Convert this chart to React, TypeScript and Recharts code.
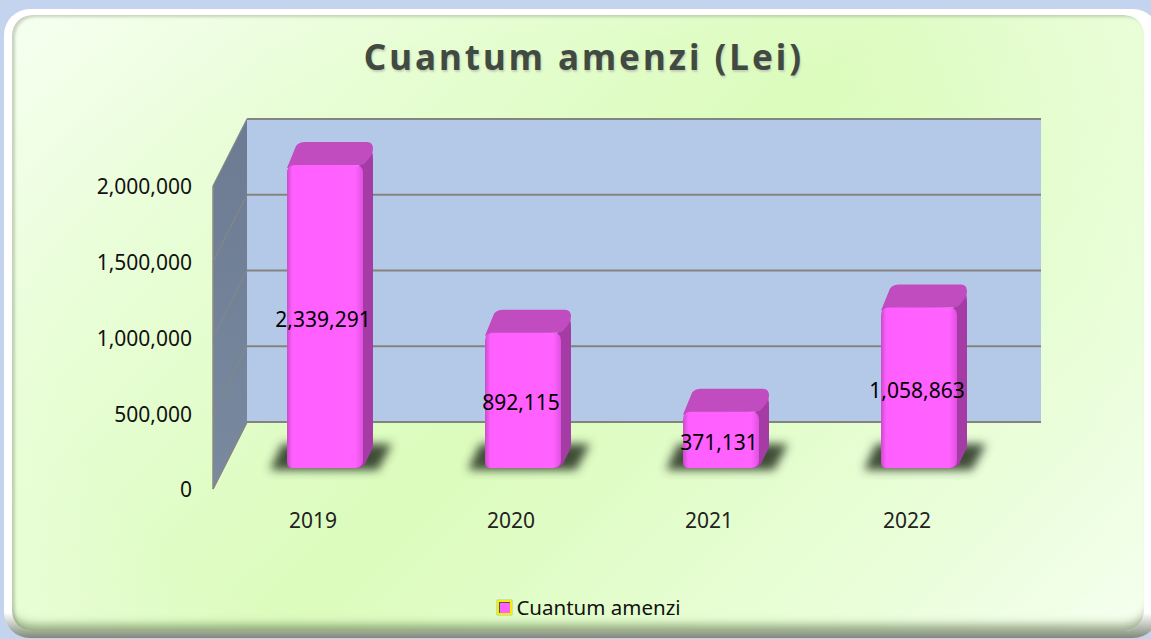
import React from 'react';
import { BarChart, Bar, XAxis, YAxis, CartesianGrid, LabelList, Legend, usePlotArea } from 'recharts';

const years = ['2019', '2020', '2021', '2022'];
const amounts = [2339291, 892115, 371131, 1058863];
const yTicks = [0, 500000, 1000000, 1500000, 2000000];

const data = years.map((year, i) => ({ year, amount: amounts[i] }));

const FONT = '"Noto Sans", sans-serif';
const WALL_DX = 34;
const WALL_DY = 67;
const BAR_DX = 13;
const BAR_DY = 21;
const TOP_DX = 10;
const TOP_DY = 23;

const fmt = (v: number) => v.toLocaleString('en-US');

// walls go in with the first grid line so the lines stay on top of them
const Walls = () => {
  const plot = usePlotArea();
  if (!plot) return null;
  const { x, y, width, height } = plot;
  const bx = x + WALL_DX;
  const right = x + width + WALL_DX + 2;
  return (
    <g>
      <defs>
        <linearGradient id="sideWall" x1="0" y1="0" x2="0" y2="1">
          <stop offset="0" stopColor="#6c7b91" />
          <stop offset="1" stopColor="#79899f" />
        </linearGradient>
        <filter id="floorBlur" x="-30%" y="-60%" width="160%" height="220%">
          <feGaussianBlur stdDeviation="5" />
        </filter>
        <linearGradient id="barFront" x1="0" y1="0" x2="1" y2="0">
          <stop offset="0" stopColor="#c94cc9" />
          <stop offset="0.07" stopColor="#ff5fff" />
          <stop offset="0.9" stopColor="#ff62ff" />
          <stop offset="1" stopColor="#e050e0" />
        </linearGradient>
      </defs>
      <rect x={bx} y={y - WALL_DY} width={right - bx} height={height} fill="#b4c9e8" />
      <path
        d={`M${x},${y} L${bx},${y - WALL_DY} L${bx},${y + height - WALL_DY} L${x},${y + height} Z`}
        fill="url(#sideWall)"
      />
      <path
        d={`M${x},${y} L${x},${y + height} L${bx},${y + height - WALL_DY}`}
        fill="none"
        stroke="#8a8a80"
        strokeWidth={1.5}
      />
    </g>
  );
};

const GridLine = (props: any) => {
  const { x1, x2, y1, index } = props;
  const bx = x1 + WALL_DX;
  const by = y1 - WALL_DY;
  return (
    <g>
      {index === 0 && <Walls />}
      <line x1={x1} y1={y1} x2={bx} y2={by} stroke="#84868a" strokeWidth={1.2} />
      <line x1={bx} y1={by} x2={x2 + WALL_DX + 2} y2={by} stroke="#84847e" strokeWidth={2} />
    </g>
  );
};

const Bar3D = (props: any) => {
  const { x, y, width, height, background } = props;
  const plotTop = background ? background.y : y;
  const bottom = y + height - BAR_DY;
  const top = Math.max(y, plotTop) - BAR_DY;
  const l = x + BAR_DX;
  const r = l + width;
  const d = TOP_DX;
  const u = TOP_DY;
  return (
    <g>
      <path
        d={`M${l - 17},${bottom + 2} L${l - 5},${bottom - 24} L${r + 29},${bottom - 24} L${r + 15},${bottom + 2} Z`}
        fill="#37432f"
        fillOpacity={0.95}
        filter="url(#floorBlur)"
      />
      <path
        d={`M${r - 6},${top + 3} L${r + d - 1},${top - u + 9} Q${r + d},${top - u + 12} ${r + d},${top - u + 18}
           L${r + d},${bottom - u + 2} L${r + 2},${bottom - 4} Q${r - 1},${bottom} ${r - 8},${bottom} Z`}
        fill="#a53ca6"
      />
      <path
        d={`M${l},${top + 3} L${l + d - 1},${top - u + 4} Q${l + d + 2},${top - u} ${l + d + 8},${top - u}
           L${r + d - 6},${top - u} Q${r + d},${top - u} ${r + d},${top - u + 7} Q${r + d},${top - u + 13} ${r + 2},${top - 2} Q${r},${top} ${r - 6},${top} Z`}
        fill="#c04cc0"
      />
      <path
        d={`M${l},${top + 8} Q${l},${top} ${l + 8},${top} L${r - 8},${top} Q${r},${top} ${r},${top + 8}
           L${r},${bottom - 8} Q${r},${bottom} ${r - 8},${bottom} L${l + 6},${bottom} Q${l},${bottom} ${l},${bottom - 6} Z`}
        fill="url(#barFront)"
      />
    </g>
  );
};

const BarValue = (props: any) => {
  const plot = usePlotArea();
  const { x, y, width, height, value } = props;
  if (!plot) return null;
  const top = Math.max(y, plot.y);
  const cy = (top + y + height) / 2 - BAR_DY + 2;
  return (
    <text x={x + width / 2 + 11} y={cy} textAnchor="middle" dominantBaseline="central" fontFamily={FONT} fontSize={21} fill="#000">
      {fmt(value)}
    </text>
  );
};

const LegendBox = () => (
  <div style={{ display: 'flex', alignItems: 'center', justifyContent: 'center', fontFamily: FONT, fontSize: 20.5, color: '#111', lineHeight: '24px' }}>
    <span
      style={{
        display: 'inline-block',
        width: 11,
        height: 11,
        marginRight: 4,
        background: '#ff5fff',
        border: '2.5px solid #f0f000',
        boxShadow: 'inset 1px 1px 0 #555, 0 0 1px #555',
      }}
    />
    Cuantum amenzi
  </div>
);

export default function App() {
  return (
    <div style={{ position: 'absolute', left: 0, top: 0, width: 1151, height: 639, background: '#c4d4ee', overflow: 'hidden' }}>
      <style>{`.recharts-bar, .recharts-bar * , .recharts-bar-rectangles, .recharts-label-list { clip-path: none !important; }`}</style>
      <div style={{ position: 'absolute', left: 4, top: 9, width: 1155, height: 629, borderRadius: 26, background: 'linear-gradient(180deg,#ffffff 0%,#ffffff 96%,#7f8a78 100%)' }} />
      <div
        style={{
          position: 'absolute',
          left: 12,
          top: 15,
          width: 1132,
          height: 616,
          borderRadius: 20,
          background:
            'radial-gradient(ellipse 75% 85% at 50% 55%,rgba(255,255,255,0) 60%,rgba(255,255,255,0.35) 100%), linear-gradient(135deg,#f2ffea 0%,#dbfcbc 50%,#f2ffea 100%)',
          boxShadow: 'inset 3px 2px 3px rgba(120,130,110,0.35), inset 0 -14px 10px -8px rgba(90,110,70,0.6)',
        }}
      />
      <div style={{ position: 'absolute', left: 0, top: 0 }}>
        <BarChart width={1151} height={639} data={data} margin={{ top: 186, right: 146, bottom: 96, left: 0 }} barSize={76}>
          <CartesianGrid vertical={false} horizontal={(p: any) => <GridLine key={p.key} {...p} />} syncWithTicks />
          <XAxis dataKey="year" axisLine={false} tickLine={false} tickMargin={18} tick={{ fontFamily: FONT, fontSize: 21, fill: '#222', dx: 1 }} />
          <YAxis
            width={213}
            domain={[0, 2000000]}
            ticks={yTicks}
            allowDataOverflow
            interval={0}
            axisLine={false}
            tickLine={false}
            tickMargin={15}
            tickFormatter={fmt}
            tick={{ fontFamily: FONT, fontSize: 21, fill: '#111', dy: 1 }}
          />
          <Legend verticalAlign="bottom" content={<LegendBox />} wrapperStyle={{ left: 0, width: 1178, bottom: 20 }} />
          <Bar dataKey="amount" isAnimationActive={false} shape={<Bar3D />}>
            <LabelList dataKey="amount" content={<BarValue />} />
          </Bar>
          <text x={584} y={56} textAnchor="middle" dominantBaseline="central" fontFamily={FONT} fontWeight={700} fontSize={35} letterSpacing={3} fill="#414a41" style={{ textShadow: '1px 2px 2px #c4d0b4' }}>
            Cuantum amenzi (Lei)
          </text>
        </BarChart>
      </div>
    </div>
  );
}
